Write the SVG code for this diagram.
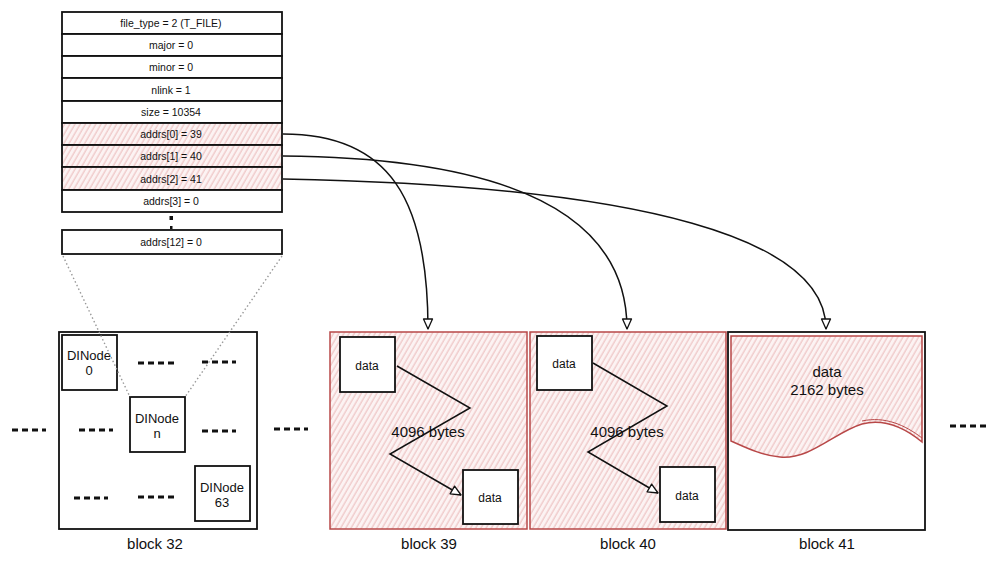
<svg xmlns="http://www.w3.org/2000/svg" width="1000" height="564" viewBox="0 0 1000 564">
<defs>
<pattern id="hatch" width="4.5" height="4.5" patternUnits="userSpaceOnUse" patternTransform="rotate(30)">
<rect width="4.5" height="4.5" fill="#fcf3f3"/>
<line x1="1" y1="0" x2="1" y2="4.5" stroke="#e9b4b4" stroke-width="0.9"/>
</pattern>
<marker id="arr" markerWidth="14" markerHeight="14" refX="11" refY="6" orient="auto" markerUnits="userSpaceOnUse">
<path d="M1,1.5 L11,6 L1,10.5 Z" fill="#fff" stroke="#111" stroke-width="1.3" stroke-linejoin="round"/>
</marker>
</defs>
<style>
text{font-family:"Liberation Sans",Arial,sans-serif;fill:#111;text-anchor:middle}
.row{fill:#fff;stroke:#111;stroke-width:1.8}
.rowh{fill:url(#hatch);stroke:#111;stroke-width:1.8}
.t{font-size:10.5px}
.box{fill:#fff;stroke:#111;stroke-width:1.8}
.blk{fill:#fff;stroke:#111;stroke-width:1.8}
.blkr{fill:url(#hatch);stroke:#b84848;stroke-width:1.5}
.lbl{font-size:15px}
.dn{font-size:13px}
.dt{font-size:12px}
.by{font-size:15px}
.dash{stroke:#111;stroke-width:3;stroke-dasharray:6 4;fill:none}
.dot{stroke:#999;stroke-width:1.4;stroke-dasharray:1.5 2.5;fill:none}
.zz{stroke:#111;stroke-width:1.5;fill:none}
.conn{stroke:#111;stroke-width:1.5;fill:none}
</style>

<g id="inode">
<rect class="row" x="62" y="12" width="220" height="22"/>
<text class="t" x="171" y="27">file_type = 2 (T_FILE)</text>
<rect class="row" x="62" y="34" width="220" height="22"/>
<text class="t" x="171" y="49">major = 0</text>
<rect class="row" x="62" y="56" width="220" height="22"/>
<text class="t" x="171" y="71">minor = 0</text>
<rect class="row" x="62" y="78" width="220" height="23"/>
<text class="t" x="171" y="93.5">nlink = 1</text>
<rect class="row" x="62" y="101" width="220" height="22"/>
<text class="t" x="171" y="116">size = 10354</text>
<rect class="rowh" x="62" y="123" width="220" height="22"/>
<text class="t" x="171" y="138">addrs[0] = 39</text>
<rect class="rowh" x="62" y="145" width="220" height="22"/>
<text class="t" x="171" y="160">addrs[1] = 40</text>
<rect class="rowh" x="62" y="167" width="220" height="23"/>
<text class="t" x="171" y="182.5">addrs[2] = 41</text>
<rect class="row" x="62" y="190" width="220" height="22"/>
<text class="t" x="171" y="205">addrs[3] = 0</text>
<rect x="169.5" y="216" width="3.5" height="4" fill="#111"/>
<rect x="170" y="226" width="2.5" height="3" fill="#111"/>
<rect class="row" x="62" y="230" width="220" height="24"/>
<text class="t" x="171" y="246">addrs[12] = 0</text>
</g>

<g id="block32">
<rect class="blk" x="59" y="332" width="198" height="197"/>
<text class="lbl" x="155" y="549">block 32</text>
</g>
<g id="dinode0">
<rect class="box" x="62" y="335" width="55" height="55"/>
<text class="dn" x="89" y="360">DINode</text>
<text class="dn" x="89" y="375">0</text>
</g>
<g id="dinoden">
<rect class="box" x="130" y="397" width="55" height="55"/>
<text class="dn" x="157" y="423">DINode</text>
<text class="dn" x="157" y="438">n</text>
</g>
<g id="dinode63">
<rect class="box" x="195" y="466" width="55" height="55"/>
<text class="dn" x="222" y="492">DINode</text>
<text class="dn" x="222" y="507">63</text>
</g>

<g id="block39">
<rect class="blkr" x="330" y="332" width="197" height="197"/>
<rect class="box" x="340" y="337" width="55" height="55"/>
<text class="dt" x="367" y="370">data</text>
<rect class="box" x="463" y="470" width="55" height="54"/>
<text class="dt" x="490" y="502">data</text>
<text class="by" x="428" y="437">4096 bytes</text>
<text class="lbl" x="429" y="549">block 39</text>
</g>
<g id="block40">
<rect class="blkr" x="530" y="332" width="196" height="197"/>
<rect class="box" x="537" y="336" width="55" height="54"/>
<text class="dt" x="564" y="368">data</text>
<rect class="box" x="660" y="467" width="55" height="55"/>
<text class="dt" x="687" y="500">data</text>
<text class="by" x="627" y="437">4096 bytes</text>
<text class="lbl" x="628" y="549">block 40</text>
</g>
<g id="block41">
<rect class="blk" x="728" y="332" width="197" height="198"/>
<path d="M731,336 H922 V442 C905,428 885,418 862,424 C835,432 810,460 780,457 C760,455 745,447 731,441 Z" fill="url(#hatch)" stroke="#b84848" stroke-width="1.5"/>
<path d="M922,438 C905,425 885,416 862,421" fill="none" stroke="#b84848" stroke-width="1"/>
<text class="by" x="827" y="377">data</text>
<text class="by" x="827" y="395">2162 bytes</text>
<text class="lbl" x="827" y="549">block 41</text>
</g>

<g id="connectors">
<path class="dot" d="M63,256 L130,397"/>
<path class="dot" d="M282,256 L185,397"/>
<path class="conn" d="M283,134 C390,134 428,200 428,329" marker-end="url(#arr)"/>
<path class="conn" d="M283,156 C520,158 627,220 627,329" marker-end="url(#arr)"/>
<path class="conn" d="M283,179 C650,186 826,240 826,329" marker-end="url(#arr)"/>
<path class="zz" d="M397,366 L470,408 L390,454 L461,495" marker-end="url(#arr)"/>
<path class="zz" d="M593,363 L667,406 L588,452 L658,493" marker-end="url(#arr)"/>
<path class="dash" d="M138,363 H178"/>
<path class="dash" d="M202,362 H236"/>
<path class="dash" d="M12,430 H46"/>
<path class="dash" d="M79,430 H113"/>
<path class="dash" d="M202,431 H236"/>
<path class="dash" d="M274,429 H308"/>
<path class="dash" d="M74,498 H108"/>
<path class="dash" d="M138,497 H178"/>
<path class="dash" d="M950,426 H988"/>
</g>
</svg>
